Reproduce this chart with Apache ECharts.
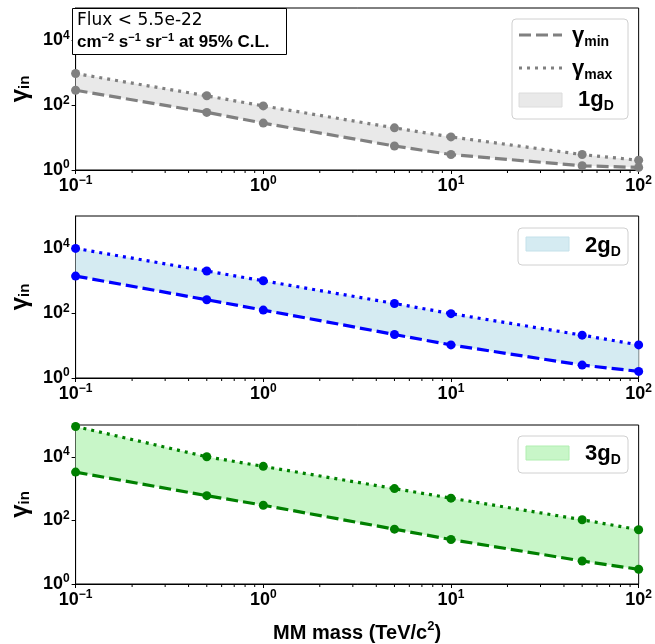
<!DOCTYPE html>
<html><head><meta charset="utf-8">
<script src="https://cdn.jsdelivr.net/npm/echarts@6/dist/echarts.min.js"></script>
<style>html,body{margin:0;padding:0;background:#fff}#c{width:655px;height:644px}</style>
</head><body><div id="c"></div>
<script>
const masses = [0.1, 0.5, 1, 5, 10, 50, 100];
const g1Min = [290, 60, 28, 5.5, 3, 1.35, 1.2];
const g1Max = [950, 195, 95, 20, 10.5, 3, 2];
const g2Min = [1400, 260, 125, 22, 10.5, 2.5, 1.6];
const g2Max = [10000, 2000, 1000, 200, 97, 21, 10.5];
const g3Min = [3300, 600, 300, 53, 25, 5.3, 2.9];
const g3Max = [90000, 10000, 5000, 1000, 500, 105, 51];
const xMinorTicks = [0.2,0.3,0.4,0.5,0.6,0.7,0.8,0.9,2,3,4,5,6,7,8,9,20,30,40,50,60,70,80,90];
const bandLabels = ['1g', '2g', '3g'];

const FONT = '"Liberation Sans", Arial, sans-serif';
const panels = [
  {min: g1Min, max: g1Max, line: '#808080', fill: '#e9e9e9', top: 8},
  {min: g2Min, max: g2Max, line: '#0000ff', fill: '#d5ebf2', top: 216},
  {min: g3Min, max: g3Max, line: '#008000', fill: '#c8f6c8', top: 425}
];
const H = 162;
const sup = {fontSize: 12, fontWeight: 'bold', fontFamily: FONT, verticalAlign: 'top', lineHeight: 22, color: '#000'};
const base = {fontSize: 18, fontWeight: 'bold', fontFamily: FONT, lineHeight: 22, color: '#000'};
function powFmt(v) {
  const e = Math.round(Math.log10(v));
  return '{b|10}{sup|' + (e < 0 ? '\u2212' + (-e) : e) + '}';
}
const grid = [], xAxis = [], yAxis = [], series = [];
panels.forEach((p, k) => {
  grid.push({left: 70, right: 16, top: p.top, height: H, show: true, borderColor: '#000', borderWidth: 1, backgroundColor: 'transparent'});
  xAxis.push({
    type: 'log', logBase: 10, gridIndex: k, min: 0.1, max: 100, interval: 1,
    axisLine: {show: true, lineStyle: {color: '#000', width: 1}},
    axisTick: {show: true, inside: false, length: 4, lineStyle: {color: '#000'}},
    splitLine: {show: false},
    axisLabel: {formatter: powFmt, margin: 5, rich: {b: base, sup: sup}},
    name: k === 2 ? '{m|MM mass (TeV/c}{s|2}{m|)}' : '',
    nameLocation: 'middle', nameGap: 36,
    nameTextStyle: {rich: {
      m: {fontSize: 20, fontWeight: 'bold', fontFamily: FONT, lineHeight: 26, color: '#000'},
      s: {fontSize: 13, fontWeight: 'bold', fontFamily: FONT, verticalAlign: 'top', lineHeight: 26, color: '#000'}
    }}
  });
  yAxis.push({
    type: 'log', logBase: 10, gridIndex: k, min: 1, max: 100000, interval: 2,
    axisLine: {show: true, lineStyle: {color: '#000', width: 1}},
    axisTick: {show: true, inside: false, length: 4, lineStyle: {color: '#000'}},
    splitLine: {show: false},
    axisLabel: {formatter: powFmt, margin: 6, showMaxLabel: false, rich: {b: base, sup: sup}},
    name: '{g|\u03b3}{s|in}', nameLocation: 'middle', nameGap: 42, nameRotate: 90,
    nameTextStyle: {rich: {
      g: {fontSize: 24, fontWeight: 'bold', fontFamily: FONT, color: '#000'},
      s: {fontSize: 15, fontWeight: 'bold', fontFamily: FONT, verticalAlign: 'bottom', color: '#000'}
    }}
  });
  const data = masses.map((m, i) => [m, p.min[i], p.max[i]]);
  series.push({
    type: 'custom', xAxisIndex: k, yAxisIndex: k, z: 1, silent: true,
    data: data, encode: {x: 0, y: [1, 2]},
    renderItem: (params, api) => {
      if (params.dataIndex !== 0) return null;
      const pts = [];
      for (let i = 0; i < masses.length; i++) pts.push(api.coord([masses[i], p.max[i]]));
      for (let i = masses.length - 1; i >= 0; i--) pts.push(api.coord([masses[i], p.min[i]]));
      return {type: 'polygon', shape: {points: pts}, style: {fill: p.fill, stroke: null}};
    }
  });
  series.push({
    type: 'line', xAxisIndex: k, yAxisIndex: k, z: 3, silent: true,
    data: masses.map((m, i) => [m, p.min[i]]),
    symbol: 'circle', symbolSize: 9, showAllSymbol: true,
    itemStyle: {color: p.line},
    lineStyle: {color: p.line, width: 3.2, type: [12, 5]}
  });
  series.push({
    type: 'line', xAxisIndex: k, yAxisIndex: k, z: 3, silent: true,
    data: masses.map((m, i) => [m, p.max[i]]),
    symbol: 'circle', symbolSize: 9, showAllSymbol: true,
    itemStyle: {color: p.line},
    lineStyle: {color: p.line, width: 3.2, type: [3, 5]}
  });
  series.push({
    type: 'custom', xAxisIndex: k, yAxisIndex: k, z: 5, silent: true, clip: false,
    data: xMinorTicks.map(v => [v, 1]),
    renderItem: (params, api) => {
      const c = api.coord([api.value(0), 1]);
      return {type: 'line', shape: {x1: c[0], y1: c[1], x2: c[0], y2: c[1] + 3}, style: {stroke: '#000', lineWidth: 1}};
    }
  });
});

const txt = (x, y, text, rich, extra) => Object.assign({type: 'text', x: x, y: y, z: 100,
  style: Object.assign({text: text, rich: rich, verticalAlign: 'middle', align: 'left'}, extra || {})});
const legRich = {
  g: {fontSize: 22, fontWeight: 'bold', fontFamily: FONT, color: '#000', lineHeight: 26},
  s: {fontSize: 14, fontWeight: 'bold', fontFamily: FONT, color: '#000', verticalAlign: 'bottom', lineHeight: 22}
};
const graphic = [
  {type: 'rect', z: 100, shape: {x: 72.5, y: 8.5, width: 214, height: 46}, style: {fill: '#fff', stroke: '#000', lineWidth: 1}},
  txt(77, 21, '{r|Flux < 5.5e-22}', {r: {fontSize: 17, fontFamily: '"DejaVu Sans", sans-serif', color: '#000'}}),
  txt(77, 42, '{b|cm}{s|\u22122}{b| s}{s|\u22121}{b| sr}{s|\u22121}{b| at 95% C.L.}', {
    b: {fontSize: 17, fontWeight: 'bold', fontFamily: FONT, color: '#000', lineHeight: 20},
    s: {fontSize: 11, fontWeight: 'bold', fontFamily: FONT, color: '#000', verticalAlign: 'top', lineHeight: 20}
  }),
  // legend panel 1
  {type: 'rect', z: 100, shape: {x: 512, y: 19, width: 116, height: 100, r: 4}, style: {fill: 'rgba(255,255,255,0.8)', stroke: '#d0d0d0', lineWidth: 1}},
  {type: 'line', z: 101, shape: {x1: 519, y1: 35, x2: 562, y2: 35}, style: {stroke: '#808080', lineWidth: 3.2, lineDash: [12, 5]}},
  {type: 'line', z: 101, shape: {x1: 519, y1: 68, x2: 562, y2: 68}, style: {stroke: '#808080', lineWidth: 3.2, lineDash: [3, 5]}},
  {type: 'rect', z: 101, shape: {x: 519, y: 93, width: 43, height: 14}, style: {fill: '#e9e9e9', stroke: '#dcdcdc', lineWidth: 1}},
  txt(572, 36, '{g|\u03b3}{s|min}', legRich),
  txt(572, 69, '{g|\u03b3}{s|max}', legRich),
  txt(578, 100, '{g|' + bandLabels[0] + '}{s|D}', legRich),
  // legend panel 2
  {type: 'rect', z: 100, shape: {x: 518, y: 228, width: 110, height: 37, r: 4}, style: {fill: 'rgba(255,255,255,0.8)', stroke: '#d0d0d0', lineWidth: 1}},
  {type: 'rect', z: 101, shape: {x: 526, y: 237, width: 43, height: 14}, style: {fill: '#d5ebf2', stroke: '#c4e1ea', lineWidth: 1}},
  txt(585, 246, '{g|' + bandLabels[1] + '}{s|D}', legRich),
  // legend panel 3
  {type: 'rect', z: 100, shape: {x: 518, y: 436, width: 110, height: 37, r: 4}, style: {fill: 'rgba(255,255,255,0.8)', stroke: '#d0d0d0', lineWidth: 1}},
  {type: 'rect', z: 101, shape: {x: 526, y: 446, width: 43, height: 14}, style: {fill: '#c8f6c8', stroke: '#b0eeb0', lineWidth: 1}},
  txt(585, 454, '{g|' + bandLabels[2] + '}{s|D}', legRich)
];

const chart = echarts.init(document.getElementById('c'), null, {renderer: 'canvas'});
chart.setOption({animation: false, backgroundColor: '#fff', grid, xAxis, yAxis, series, graphic});
</script></body></html>
